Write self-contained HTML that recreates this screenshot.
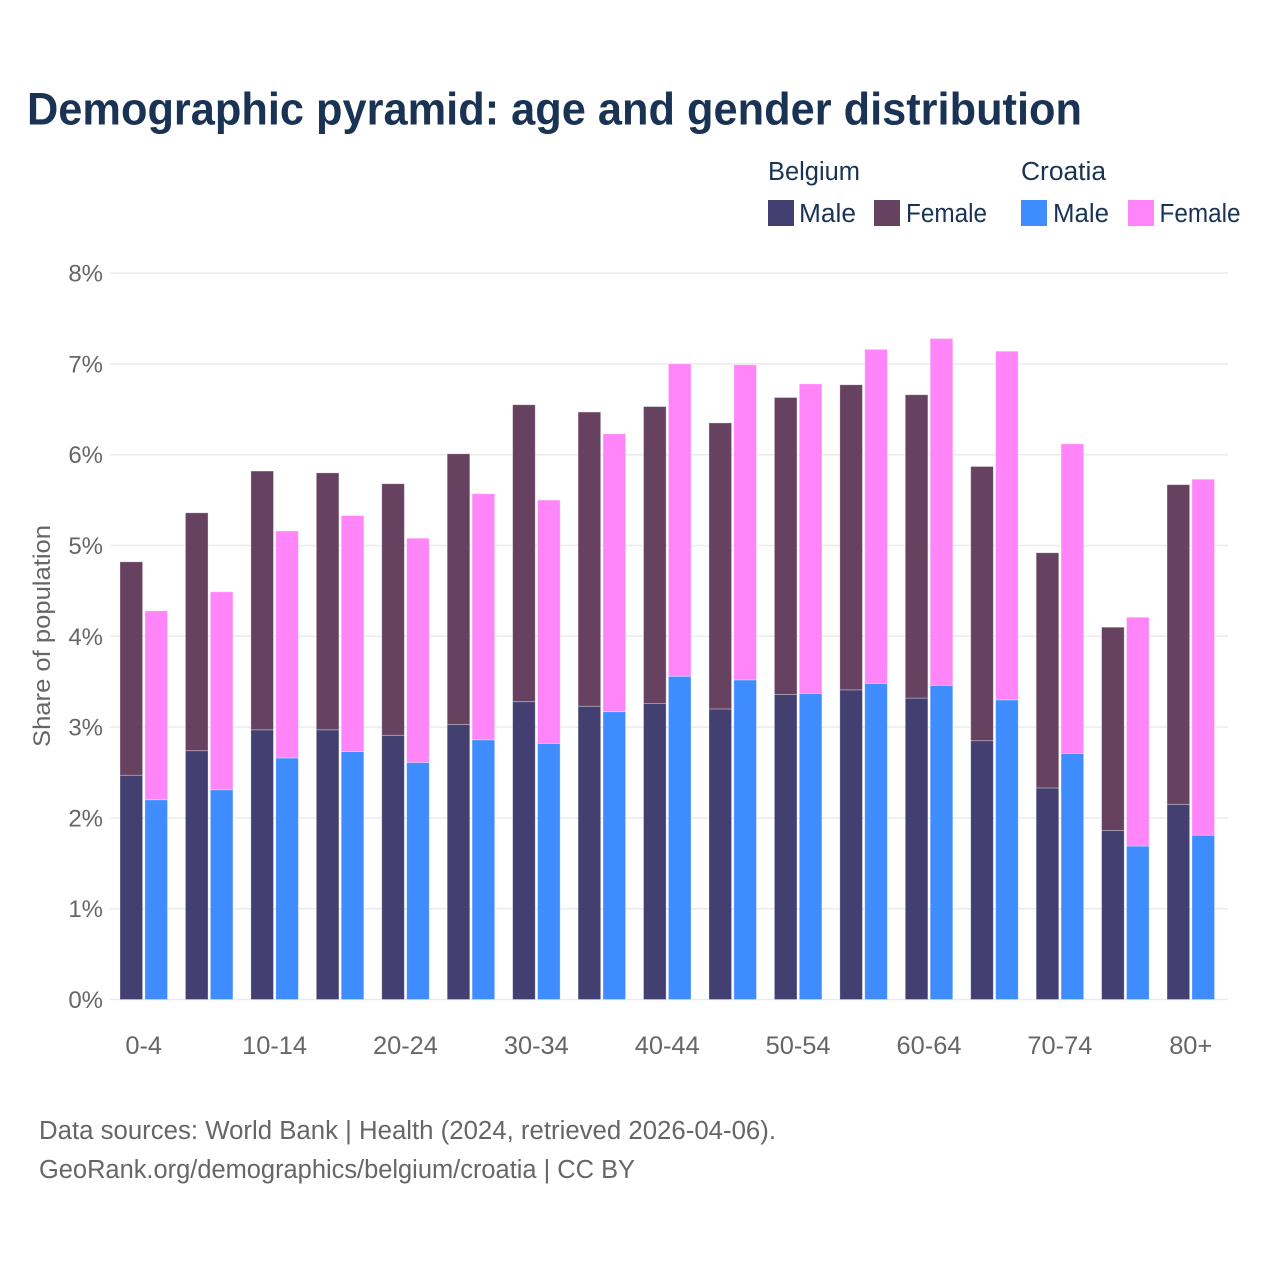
<!DOCTYPE html>
<html lang="en">
<head>
<meta charset="utf-8">
<title>Demographic pyramid: age and gender distribution</title>
<style>
html,body{margin:0;padding:0;background:#fff;width:1280px;height:1280px;overflow:hidden}
svg{display:block;font-family:"Liberation Sans",Arial,sans-serif}
</style>
</head>
<body>
<svg id="chart" width="1280" height="1280" viewBox="0 0 1280 1280" xmlns="http://www.w3.org/2000/svg">
  <text x="27" y="124.5" font-size="45.5" font-weight="700" fill="#1a3354" textLength="1055" lengthAdjust="spacingAndGlyphs">Demographic pyramid: age and gender distribution</text>

  <g font-size="25.5" fill="#1a3354">
    <text x="768" y="180" textLength="92" lengthAdjust="spacingAndGlyphs">Belgium</text>
    <text x="1021" y="180" textLength="85" lengthAdjust="spacingAndGlyphs">Croatia</text>
    <rect x="768" y="200" width="26" height="26" fill="#433f70"/>
    <text x="799" y="222" textLength="57" lengthAdjust="spacingAndGlyphs">Male</text>
    <rect x="874" y="200" width="26" height="26" fill="#664160"/>
    <text x="906" y="222" textLength="81" lengthAdjust="spacingAndGlyphs">Female</text>
    <rect x="1021" y="200" width="26" height="26" fill="#3f8cff"/>
    <text x="1053" y="222" textLength="56" lengthAdjust="spacingAndGlyphs">Male</text>
    <rect x="1128" y="200" width="26" height="26" fill="#ff85f8"/>
    <text x="1159.5" y="222" textLength="81" lengthAdjust="spacingAndGlyphs">Female</text>
  </g>

  <g id="grid"></g>
  <g id="yticks"></g>
  <g id="bars"></g>
  <g id="xticks"></g>

  <text transform="translate(50,636) rotate(-90)" text-anchor="middle" font-size="24" fill="#666666" textLength="222" lengthAdjust="spacingAndGlyphs">Share of population</text>

  <text x="39" y="1139" font-size="25.5" fill="#666666" textLength="737" lengthAdjust="spacingAndGlyphs">Data sources: World Bank | Health (2024, retrieved 2026-04-06).</text>
  <text x="39" y="1178" font-size="25.5" fill="#666666" textLength="596" lengthAdjust="spacingAndGlyphs">GeoRank.org/demographics/belgium/croatia | CC BY</text>
</svg>
<script>
const categories = ["0-4","5-9","10-14","15-19","20-24","25-29","30-34","35-39","40-44","45-49","50-54","55-59","60-64","65-69","70-74","75-79","80+"];
const yTickValues = [0,1,2,3,4,5,6,7,8];
const belgiumMale = [2.47,2.74,2.97,2.97,2.91,3.03,3.28,3.23,3.26,3.20,3.36,3.41,3.32,2.85,2.33,1.86,2.15];
const belgiumFemale = [2.35,2.62,2.85,2.83,2.77,2.98,3.27,3.24,3.27,3.15,3.27,3.36,3.34,3.02,2.59,2.24,3.52];
const croatiaMale = [2.20,2.31,2.66,2.73,2.61,2.86,2.82,3.17,3.56,3.52,3.37,3.48,3.46,3.30,2.71,1.69,1.81];
const croatiaFemale = [2.08,2.18,2.50,2.60,2.47,2.71,2.68,3.06,3.44,3.47,3.41,3.68,3.82,3.84,3.41,2.52,3.92];

const NS = "http://www.w3.org/2000/svg";
const COLORS = {bm:"#433f70", bf:"#664160", cm:"#3f8cff", cf:"#ff85f8"};
function yScale(v){ return 999.5 - v * 90.8; }
function xCenter(i){ return 143.7 + i * 65.44; }

function mk(tag, attrs, parent){
  const el = document.createElementNS(NS, tag);
  for (const k in attrs) el.setAttribute(k, attrs[k]);
  parent.appendChild(el);
  return el;
}

const gridG = document.getElementById("grid");
const yG = document.getElementById("yticks");
yTickValues.forEach(function(v){
  const line = mk("line", {x1:110, x2:1228, y1:yScale(v), y2:yScale(v), stroke:"#ebebeb", "stroke-width":1.5}, gridG);
  
  
  const t = mk("text", {x:103, y:yScale(v)+8.5, "text-anchor":"end", "font-size":24, fill:"#666666"}, yG);
  
  
  t.textContent = v + "%";
});

const barsG = document.getElementById("bars");
function drawBar(x, base, value, color){
  const top = yScale(base + value);
  const r = mk("rect", {x:x, y:top, width:22.6, height:yScale(base) - top, fill:color, stroke:"#ffffff", "stroke-opacity":0.4, "stroke-width":0.8}, barsG);
  return r;
}
categories.forEach(function(c, i){
  const cx = xCenter(i);
  const left = cx - 23.7;
  const right = cx + 1.2;
  const a = drawBar(left, 0, belgiumMale[i], COLORS.bm);
  
  
  const b = drawBar(left, belgiumMale[i], belgiumFemale[i], COLORS.bf);
  
  
  const d = drawBar(right, 0, croatiaMale[i], COLORS.cm);
  
  
  const e = drawBar(right, croatiaMale[i], croatiaFemale[i], COLORS.cf);
  
  
});

const xG = document.getElementById("xticks");
categories.forEach(function(c, i){
  if (i % 2 !== 0) return;
  const t = mk("text", {x:xCenter(i), y:1054, "text-anchor":"middle", "font-size":25.4, fill:"#666666"}, xG);
  
  
  t.textContent = c;
});
</script>
</body>
</html>
